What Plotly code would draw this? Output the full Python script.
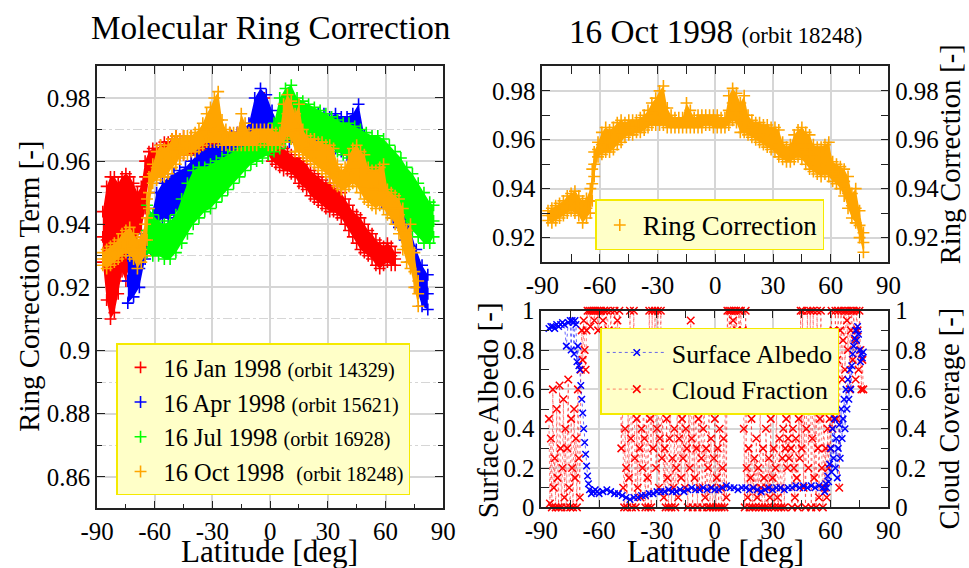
import plotly.graph_objects as go

# ---------------- data ----------------
# Left panel: molecular ring correction for four orbits (lower / middle / upper edge of each band)
JAN_LAT = [-87,-85,-83,-81,-79,-77,-75,-73,-71,-69,-67,-65,-63,-61,-59,-57,-55,-53,-51,-49,-47,
           -45,-41,-37,-33,-29,-25,-21,-17,-13,-9,-5,
           -3,-1,1,3,5,7,9,11,13,15,17,19,21,23,25,27,29,31,33,35,37,39,41,43,45,47,49,51,53,55,57,59,61,63,65]
JAN_LO = [0.928,0.916,0.910,0.912,0.918,0.925,0.922,0.928,0.932,0.936,0.938,0.945,0.955,0.958,0.958,0.959,0.959,0.960,0.961,0.962,0.962,
          0.962,0.962,0.962,0.962,0.963,0.963,0.963,0.963,0.963,0.963,0.964,
          0.965,0.962,0.960,0.959,0.958,0.957,0.957,0.956,0.955,0.953,0.952,0.951,0.949,0.948,0.947,0.946,0.945,0.944,0.944,0.943,0.942,0.940,0.938,0.936,0.934,0.932,0.931,0.930,0.929,0.927,0.926,0.927,0.928,0.927,0.927]
JAN_MID = [0.936,0.935,0.930,0.935,0.945,0.940,0.935,0.945,0.944,0.945,0.946,0.955,0.960,0.961,0.961,0.962,0.962,0.963,0.964,0.965,0.965,
           0.965,0.965,0.965,0.965,0.966,0.966,0.966,0.966,0.966,0.966,0.967,
           0.972,0.966,0.964,0.962,0.961,0.960,0.960,0.959,0.958,0.957,0.956,0.955,0.953,0.952,0.951,0.950,0.949,0.948,0.948,0.947,0.946,0.944,0.942,0.940,0.938,0.937,0.935,0.934,0.933,0.931,0.930,0.930,0.931,0.930,0.929]
JAN_HI = [0.944,0.952,0.955,0.955,0.953,0.955,0.956,0.955,0.953,0.950,0.952,0.960,0.963,0.964,0.964,0.965,0.966,0.966,0.967,0.968,0.967,
          0.968,0.968,0.968,0.968,0.969,0.969,0.969,0.969,0.969,0.969,0.970,
          0.980,0.970,0.967,0.966,0.965,0.964,0.963,0.962,0.961,0.961,0.960,0.959,0.957,0.956,0.955,0.954,0.953,0.953,0.952,0.951,0.950,0.948,0.946,0.944,0.943,0.942,0.940,0.938,0.937,0.935,0.934,0.933,0.934,0.933,0.931]

APR_LAT = [-74,-71,-68,-65,-62,-59,-56,-53,-50,-47,-44,-41,-38,-35,-32,-29,-26,-23,-20,-17,-14,-11,-8,-5,-2,
           1,4,7,10,13,16,19,22,25,28,31,34,37,40,43,46,49,52,55,58,61,64,67,70,73,76,79,82]
APR_LO = [0.915,0.917,0.920,0.929,0.932,0.940,0.942,0.942,0.943,0.945,0.948,0.950,0.952,0.954,0.956,0.958,0.960,0.961,0.962,0.963,0.964,0.965,0.967,0.968,0.968,
          0.967,0.966,0.966,0.966,0.966,0.966,0.966,0.966,0.965,0.965,0.964,0.964,0.963,0.962,0.961,0.960,0.956,0.952,0.949,0.947,0.945,0.942,0.939,0.935,0.928,0.920,0.914,0.913]
APR_MID = [0.922,0.924,0.926,0.933,0.937,0.945,0.947,0.948,0.949,0.951,0.953,0.955,0.957,0.959,0.960,0.961,0.963,0.964,0.965,0.966,0.967,0.968,0.973,0.975,0.974,
           0.971,0.969,0.969,0.969,0.970,0.970,0.970,0.970,0.970,0.970,0.969,0.969,0.968,0.968,0.967,0.967,0.962,0.958,0.954,0.951,0.949,0.946,0.943,0.939,0.933,0.926,0.920,0.918]
APR_HI = [0.930,0.931,0.932,0.937,0.942,0.950,0.953,0.955,0.956,0.957,0.958,0.960,0.962,0.963,0.964,0.965,0.966,0.967,0.968,0.969,0.970,0.972,0.980,0.983,0.981,
          0.976,0.972,0.972,0.973,0.974,0.974,0.975,0.975,0.975,0.975,0.974,0.975,0.974,0.974,0.975,0.978,0.968,0.963,0.959,0.955,0.953,0.950,0.947,0.943,0.938,0.932,0.927,0.924]

JUL_LAT = [-64,-61,-58,-55,-52,-49,-46,-43,-40,-37,-34,-31,-28,-25,-22,-19,-16,-13,-10,-7,-4,-1,
           2,5,8,11,14,17,20,23,26,29,32,35,38,41,44,47,50,53,56,59,62,65,68,71,74,77,80,83,85]
JUL_LO = [0.931,0.930,0.930,0.929,0.929,0.931,0.934,0.937,0.940,0.942,0.944,0.945,0.947,0.949,0.951,0.953,0.955,0.957,0.959,0.960,0.961,0.962,
          0.963,0.964,0.966,0.967,0.968,0.968,0.967,0.967,0.966,0.965,0.964,0.963,0.962,0.961,0.959,0.957,0.956,0.954,0.952,0.950,0.948,0.946,0.944,0.941,0.938,0.936,0.934,0.934,0.936]
JUL_MID = [0.938,0.936,0.935,0.934,0.935,0.937,0.941,0.945,0.948,0.950,0.951,0.952,0.954,0.955,0.957,0.958,0.960,0.961,0.962,0.964,0.965,0.966,
           0.968,0.972,0.975,0.975,0.974,0.973,0.972,0.972,0.971,0.970,0.969,0.968,0.967,0.966,0.965,0.963,0.962,0.961,0.960,0.958,0.956,0.954,0.952,0.949,0.946,0.944,0.942,0.940,0.941]
JUL_HI = [0.946,0.943,0.941,0.940,0.941,0.943,0.948,0.953,0.957,0.958,0.958,0.959,0.960,0.961,0.962,0.963,0.964,0.965,0.966,0.967,0.968,0.969,
          0.972,0.980,0.983,0.984,0.980,0.979,0.978,0.977,0.976,0.975,0.974,0.973,0.972,0.972,0.971,0.970,0.969,0.968,0.968,0.967,0.965,0.963,0.961,0.958,0.956,0.953,0.950,0.947,0.946]

OCT_LAT = [-87,-85,-83,-81,-79,-77,-75,-73,-71,-69,-67,-65,-64,-63,-61,-59,-57,-55,-53,-51,-49,-47,-45,-43,-41,-39,-37,-35,-33,-31,-29,-27,-25,-23,-21,-19,-17,-15,-13,-11,-9,-7,-5,-3,-1,
           1,3,5,7,9,11,13,15,17,19,21,23,25,27,29,31,33,35,37,39,41,43,45,47,49,51,53,55,57,59,61,63,65,67,69,71,73,75,77]
OCT_LO = [0.927,0.926,0.927,0.928,0.929,0.930,0.931,0.930,0.929,0.926,0.928,0.930,0.935,0.945,0.953,0.954,0.955,0.955,0.956,0.958,0.959,0.961,0.962,0.962,0.963,0.963,0.964,0.965,0.966,0.966,0.966,0.966,0.965,0.965,0.965,0.965,0.965,0.965,0.965,0.965,0.965,0.965,0.966,0.966,0.965,
          0.965,0.965,0.965,0.966,0.968,0.967,0.963,0.963,0.962,0.961,0.960,0.959,0.958,0.957,0.956,0.955,0.953,0.952,0.951,0.951,0.952,0.953,0.952,0.950,0.948,0.947,0.946,0.945,0.946,0.945,0.943,0.942,0.940,0.937,0.932,0.928,0.926,0.920,0.914]
OCT_MID = [0.929,0.929,0.930,0.931,0.932,0.934,0.935,0.935,0.933,0.931,0.932,0.935,0.942,0.950,0.956,0.958,0.959,0.959,0.960,0.962,0.963,0.964,0.965,0.965,0.966,0.966,0.967,0.968,0.970,0.971,0.972,0.973,0.969,0.967,0.967,0.967,0.967,0.968,0.967,0.967,0.968,0.968,0.968,0.968,0.968,
           0.967,0.967,0.967,0.972,0.975,0.972,0.969,0.970,0.966,0.965,0.964,0.963,0.962,0.961,0.960,0.959,0.958,0.955,0.954,0.955,0.957,0.958,0.958,0.956,0.954,0.952,0.951,0.951,0.952,0.950,0.947,0.946,0.945,0.943,0.938,0.933,0.932,0.925,0.918]
OCT_HI = [0.931,0.932,0.933,0.934,0.935,0.937,0.938,0.939,0.937,0.935,0.936,0.940,0.948,0.955,0.959,0.963,0.965,0.964,0.965,0.967,0.968,0.967,0.968,0.968,0.968,0.969,0.970,0.972,0.975,0.977,0.980,0.982,0.973,0.970,0.969,0.969,0.969,0.975,0.972,0.969,0.970,0.970,0.970,0.970,0.970,
          0.970,0.969,0.969,0.978,0.981,0.979,0.975,0.978,0.970,0.968,0.967,0.967,0.966,0.966,0.965,0.965,0.964,0.959,0.957,0.958,0.962,0.964,0.965,0.963,0.962,0.958,0.957,0.957,0.958,0.959,0.951,0.950,0.949,0.948,0.945,0.938,0.940,0.931,0.922]

# Bottom-right panel: surface albedo and cloud fraction for 16 Oct 1998
ALB_LAT = [-86,-85,-84,-83,-82,-81,-80,-79,-78,-77,-76,-75,-74.5,-74,-73.5,-73,-72.5,-72,-71.5,-71,-70.5,-70,-69.5,-69,-68.5,-68,-67.5,-67,-66.5,-66,-65.5,-65,-64,-63,-62,-61,-60,
           -58,-56,-54,-52,-50,-48,-46,-44,-42,-40,-38,-36,-34,-32,-30,-28,-26,-24,-22,-20,-18,-16,-14,-12,-10,-8,-6,-4,-2,0,
           2,4,6,8,10,12,14,16,18,20,22,24,26,28,30,32,34,36,38,40,42,44,46,48,50,52,54,56,
           57,57.5,58,58.5,59,59.5,60,60.5,61,61.5,62,62.5,63,63.5,64,64.5,65,65.5,66,66.5,67,67.5,68,68.5,69,69.5,70,70.5,71,71.5,72,72.5,73,73.5,74,74.5,75,75.5,76,76.5,77]
ALB_VAL = [0.91,0.92,0.92,0.91,0.93,0.92,0.93,0.94,0.93,0.82,0.94,0.95,0.80,0.95,0.94,0.78,0.95,0.93,0.74,0.82,0.72,0.70,0.62,0.55,0.48,0.40,0.33,0.27,0.21,0.16,0.12,0.09,0.07,0.08,0.09,0.08,0.07,
           0.08,0.09,0.08,0.07,0.07,0.06,0.05,0.04,0.05,0.05,0.06,0.06,0.07,0.07,0.08,0.08,0.08,0.09,0.08,0.08,0.09,0.08,0.09,0.10,0.09,0.09,0.10,0.09,0.10,0.09,
           0.09,0.10,0.11,0.10,0.10,0.09,0.10,0.10,0.09,0.10,0.09,0.08,0.09,0.10,0.09,0.10,0.10,0.09,0.10,0.10,0.11,0.10,0.11,0.10,0.11,0.10,0.11,0.10,
           0.08,0.12,0.10,0.16,0.13,0.22,0.30,0.18,0.40,0.25,0.45,0.20,0.35,0.15,0.30,0.42,0.25,0.50,0.35,0.45,0.55,0.40,0.60,0.50,0.65,0.55,0.70,0.60,0.72,0.78,0.82,0.86,0.90,0.85,0.92,0.88,0.80,0.74,0.78,0.76,0.79]

CF_LAT = [-86,-85.5,-85,-84.5,-84,-83.5,-83,-82.5,-82,-81.5,-81,-80.5,-80,-79.5,-79,-78.5,-78,-77.5,-77,-76.5,-76,-75.5,-75,-74.5,-74,-73.5,-73,-72.5,-72,-71.5,-71,-70.5,-70,
          -69.5,-69,-68.5,-68,-67.5,-67,-66.5,-66,-65,-64.5,-64,-63,-62.5,-62,-61,-60.5,-60,-59,-58,-57.5,-57,-56,-55,-54.5,-54,-53,-52.5,-52,-51,-50.5,-50,-49.5,-49,
          -48.5,-48,-47.5,-47,-46.5,-46,-45.5,-45,-44.5,-44,-43.5,-43,-42.5,-42,-41.5,-41,-40.5,-40,-39.5,-39,-38.5,-38,-37.5,-37,-36.5,-36,-35.5,-35,-34.5,-34,-33.5,-33,
          -32.5,-32,-31.5,-31,-30.5,-30,-29.5,-29,-28.5,-28,-27.5,-27,-26.5,-26,-25.5,-25,-24.5,-24,-23.5,-23,-22.5,-22,-21.5,-21,-20.5,-20,-19.5,-19,-18.5,-18,-17.5,-17,
          -16.5,-16,-15.5,-15,-14.5,-14,-13.5,-13,-12.5,-12,-11.5,-11,-10.5,-10,-9.5,-9,-8.5,-8,-7.5,-7,-6.5,-6,-5.5,-5,-4.5,-4,-3.5,-3,-2.5,-2,-1.5,-1,-0.5,0,
          0.5,1,1.5,2,2.5,3,3.5,4,4.5,5,5.5,6,6.5,7,7.5,8,8.5,9,9.5,10,10.5,11,11.5,12,12.5,13,13.5,14,14.5,15,15.5,16,16.5,17,17.5,18,18.5,19,19.5,20,
          20.5,21,21.5,22,22.5,23,23.5,24,24.5,25,25.5,26,26.5,27,27.5,28,28.5,29,29.5,30,30.5,31,31.5,32,32.5,33,33.5,34,34.5,35,35.5,36,36.5,37,37.5,38,38.5,39,39.5,40,
          40.5,41,41.5,42,42.5,43,43.5,44,44.5,45,45.5,46,46.5,47,47.5,48,48.5,49,49.5,50,50.5,51,51.5,52,52.5,53,53.5,54,54.5,55,55.5,56,56.5,57,57.5,58,58.5,59,59.5,60,
          60.5,61,61.5,62,62.5,63,63.5,64,64.5,65,65.5,66,66.5,67,67.5,68,68.5,69,69.5,70,70.5,71,71.5,72,72.5,73,73.5,74,74.5,75,75.5,76,76.5,77]
CF_VAL = [0.45,0.02,0.35,0.0,0.6,0.1,0.25,0.0,0.5,0.15,0.0,0.62,0.3,0.0,0.2,0.55,0.05,0.4,0.0,0.3,0.65,0.1,0.0,0.45,0.2,0.0,0.5,0.15,0.35,0.0,0.6,0.25,0.05,
          0.7,0.9,0.75,0.95,0.8,0.7,0.9,1.0,1.0,0.92,1.0,1.0,0.95,1.0,1.0,0.9,1.0,1.0,0.95,1.0,0.85,1.0,0.9,0.7,1.0,0.8,0.65,1.0,0.85,0.95,0.75,1.0,0.6,
          0.3,0.55,0.1,0.0,0.4,0.2,0.0,0.5,0.15,1.0,0.35,0.0,0.6,1.0,0.25,0.0,0.45,0.1,0.55,0.3,0.05,0.4,0.2,0.6,0.35,0.0,0.5,0.15,0.0,1.0,0.45,0.0,
          1.0,0.3,0.55,1.0,0.2,0.4,1.0,0.1,0.35,1.0,0.25,0.5,0.05,0.3,0.0,0.45,0.15,0.0,0.35,0.55,0.0,0.25,0.1,0.4,0.0,0.2,0.5,0.05,0.35,0.6,0.15,0.45,
          0.25,0.65,0.1,0.4,0.3,0.0,0.55,0.2,0.95,0.35,0.0,0.5,0.15,0.6,0.3,0.0,0.45,0.1,0.7,0.25,0.0,0.4,0.55,0.05,0.3,0.0,0.2,0.5,0.0,0.35,0.1,0.0,0.25,0.45,
          0.0,0.15,0.3,0.0,0.4,0.1,0.0,0.2,0.35,0.0,0.8,0.05,1.0,0.75,1.0,0.85,1.0,0.7,0.95,1.0,0.8,1.0,0.9,0.75,1.0,0.85,1.0,0.7,0.9,0.4,0.0,1.0,0.2,0.05,0.3,0.0,0.15,0.45,0.0,0.1,
          0.25,0.0,0.35,0.05,0.2,0.0,0.5,0.1,0.0,0.3,0.15,0.0,0.4,0.1,0.0,0.25,0.05,0.45,0.0,0.15,0.3,0.0,0.2,0.5,0.05,0.0,0.35,0.1,0.0,0.25,0.4,0.0,0.3,0.45,0.2,0.35,0.25,0.5,0.3,0.0,
          0.4,0.2,0.05,0.35,0.15,0.0,0.45,0.25,1.0,0.3,1.0,0.1,0.55,0.0,0.4,1.0,0.2,0.6,1.0,0.0,0.35,1.0,0.15,0.5,0.0,1.0,0.3,0.05,0.45,1.0,0.2,0.0,0.55,0.1,0.3,0.05,0.4,0.2,0.45,0.3,
          1.0,0.4,0.9,0.6,1.0,0.45,0.75,1.0,0.1,0.9,1.0,0.65,0.85,1.0,0.7,1.0,0.95,0.8,1.0,0.6,0.9,1.0,0.75,1.0,0.85,0.65,1.0,0.9,0.7,1.0,0.8,0.6,0.75,0.6]

TICK_VALS = [-90, -60, -30, 0, 30, 60, 90]
TICK_TEXT = ["-90", "-60", "-30", "0", "30", "60", "90"]

# Placement: positions are given in the reference picture's pixels and mapped to
# figure pixels with the offset/scale observed between page and photograph.
SX, SY = 0.970, 0.960
CX, CY = 16.5, 10.7
W = int(round(969 / SX - CX))
H = int(round(568 / SY - CY))
K = 1.0 / 0.965   # font scale so sizes come out as in the reference


def fx(x):
    return (x / SX - CX) / W


def fy(y):
    return 1 - (y / SY - CY) / H


def px(x0, x1):
    return [fx(x0), fx(x1)]


def py(top, bottom):
    return [fy(bottom), fy(top)]


def fs(size):
    return round(size * K, 1)


ORB = fs(19.5)
SERIES = [
    (f"16 Jan 1998 <span style='font-size:{ORB}px'>(orbit 14329)</span>", "#ff0000", JAN_LAT, JAN_LO, JAN_MID, JAN_HI),
    (f"16 Apr 1998 <span style='font-size:{ORB}px'>(orbit 15621)</span>", "#0000ff", APR_LAT, APR_LO, APR_MID, APR_HI),
    (f"16 Jul 1998 <span style='font-size:{ORB}px'>(orbit 16928)</span>", "#00ff00", JUL_LAT, JUL_LO, JUL_MID, JUL_HI),
    (f"16 Oct 1998 &nbsp;<span style='font-size:{ORB}px'>(orbit 18248)</span>", "#ffa500", OCT_LAT, OCT_LO, OCT_MID, OCT_HI),
]

FONT = "Times New Roman, Liberation Serif, serif"
GRID = "#d6d6d6"
AX = "#222222"
LEG_BG = "#ffffc8"
LEG_BORDER = "#f5ea00"

fig = go.Figure()


def band(lat, lo, mid, hi, col, name, xa, ya, lg, show):
    # filled core of the dense point cloud, then the crosses themselves
    fig.add_trace(go.Scatter(x=lat, y=hi, mode="lines", line=dict(width=0, color=col),
                             xaxis=xa, yaxis=ya, showlegend=False, hoverinfo="skip"))
    fig.add_trace(go.Scatter(x=lat, y=lo, mode="lines", line=dict(width=0, color=col),
                             fill="tonexty", fillcolor=col,
                             xaxis=xa, yaxis=ya, showlegend=False, hoverinfo="skip"))
    fig.add_trace(go.Scatter(
        x=lat + lat + lat, y=lo + mid + hi, mode="markers", name=name,
        xaxis=xa, yaxis=ya, legend=lg, showlegend=show,
        marker=dict(symbol="cross-thin", size=8.5, color=col, line=dict(width=1.6, color=col)),
    ))


for name, col, lat, lo, mid, hi in SERIES:
    band(lat, lo, mid, hi, col, name, "x", "y", "legend", True)

# top right: ring correction for October
band(OCT_LAT, OCT_LO, OCT_MID, OCT_HI, "#ffa500", "Ring Correction", "x2", "y2", "legend2", True)
fig.add_trace(go.Scatter(
    x=OCT_LAT, y=OCT_MID, mode="markers", xaxis="x2", yaxis="y3", showlegend=False,
    hoverinfo="skip", marker=dict(opacity=0),
))

# bottom right: albedo (overlay axis so it sits above the cloud fraction)
fig.add_trace(go.Scatter(
    x=ALB_LAT, y=ALB_VAL, mode="lines+markers", name="Surface Albedo",
    xaxis="x3", yaxis="y5", legend="legend3", cliponaxis=False,
    line=dict(color="rgba(0,0,255,0.6)", width=1, dash="dot"),
    marker=dict(symbol="x-thin", size=6.5, color="#0000ff", line=dict(width=1.5, color="#0000ff")),
))
fig.add_trace(go.Scatter(
    x=CF_LAT, y=CF_VAL, mode="lines+markers", name="Cloud Fraction",
    xaxis="x3", yaxis="y4", legend="legend3", cliponaxis=False,
    line=dict(color="rgba(255,0,0,0.5)", width=1, dash="dot"),
    marker=dict(symbol="x-thin", size=7.5, color="#ff0000", line=dict(width=1.5, color="#ff0000")),
))

tickfont = dict(family=FONT, size=fs(24), color="black")
base = dict(showline=True, linecolor=AX, linewidth=1.5, mirror="allticks",
            ticks="inside", ticklen=8, tickwidth=1.2, tickcolor=AX,
            showgrid=True, gridcolor=GRID, gridwidth=1.5, zeroline=False, tickfont=tickfont)

xcommon = dict(base, range=[-90, 90], tickmode="array", tickvals=TICK_VALS, ticktext=TICK_TEXT,
               minor=dict(dtick=15, tick0=-90, ticks="inside", ticklen=5, tickcolor=AX, showgrid=False))

legbase = dict(xanchor="left", yanchor="top", bgcolor=LEG_BG, bordercolor=LEG_BORDER,
               borderwidth=1.5, traceorder="normal")

fig.update_layout(
    width=W, height=H, autosize=False,
    margin=dict(l=0, r=0, t=0, b=0),
    paper_bgcolor="white", plot_bgcolor="white",
    font=dict(family=FONT, color="black"),
    showlegend=True,
    xaxis=dict(xcommon, domain=px(96, 442), anchor="y"),
    yaxis=dict(base, domain=py(64, 509), range=[0.85, 0.99], tick0=0.86, dtick=0.02, anchor="x",
               minor=dict(dtick=0.01, ticks="inside", ticklen=5, tickcolor=AX,
                          showgrid=True, gridcolor=GRID, gridwidth=1.2, griddash="dashdot")),
    xaxis2=dict(xcommon, domain=px(541, 887), anchor="y2"),
    yaxis2=dict(base, domain=py(64, 261), range=[0.91, 0.99], tick0=0.92, dtick=0.02, anchor="x2",
                minor=dict(dtick=0.01, ticks="inside", ticklen=8, tickcolor=AX, showgrid=False)),
    yaxis3=dict(base, range=[0.91, 0.99], tick0=0.92, dtick=0.02, overlaying="y2", side="right",
                anchor="x2", showgrid=False, mirror=False),
    xaxis3=dict(xcommon, domain=px(540, 887), anchor="y4"),
    yaxis4=dict(base, domain=py(310, 508), range=[0, 1], tick0=0, dtick=0.2, anchor="x3",
                minor=dict(dtick=0.1, ticks="inside", ticklen=8, tickcolor=AX, showgrid=False)),
    yaxis5=dict(base, range=[0, 1], tick0=0, dtick=0.2, overlaying="y4", side="right",
                anchor="x3", showgrid=False, mirror=False),
    legend=dict(legbase, x=fx(115), y=fy(343), itemwidth=36,
                font=dict(family=FONT, size=fs(23.5), color="black")),
    legend2=dict(legbase, x=fx(594), y=fy(198), itemwidth=36,
                 font=dict(family=FONT, size=fs(26), color="black")),
    legend3=dict(legbase, x=fx(599), y=fy(327), itemwidth=60,
                 font=dict(family=FONT, size=fs(25), color="black")),
)


def ann(text, x, y, size, angle=0):
    fig.add_annotation(text=text, x=fx(x), y=fy(y), xref="paper", yref="paper",
                       showarrow=False, textangle=angle, xanchor="center", yanchor="middle",
                       font=dict(family=FONT, size=fs(size), color="black"))


ann("Molecular Ring Correction", 270, 25, 32)
ann(f"16 Oct 1998 <span style='font-size:{fs(22)}px'>(orbit 18248)</span>", 714, 29, 32)
ann("Latitude [deg]", 268, 552, 30)
ann("Latitude [deg]", 714, 552, 30)
ann("Ring Correction Term [-]", 28, 286, 28, -90)
ann("Surface Albedo [-]", 487, 410, 28, -90)
ann("Ring Correction [-]", 949, 152, 27.5, -90)
ann("Cloud Coverage [-]", 949, 418, 27.5, -90)

fig.write_html("out.html")
